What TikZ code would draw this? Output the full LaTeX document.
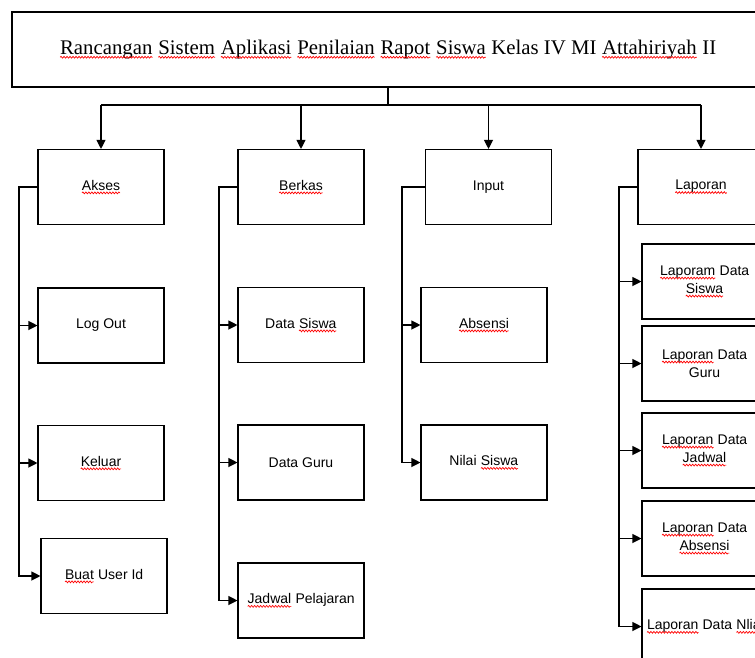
\documentclass[tikz,border=0pt]{standalone}
\usepackage{fontspec}
\setmainfont{Liberation Sans}
\newfontfamily\timesf{Liberation Serif}
\usetikzlibrary{arrows.meta,decorations.pathmorphing}
\newcommand{\sq}[1]{\tikz[baseline=(sqw.base)]{\node[inner sep=0pt,outer sep=0pt,draw=none,minimum width=0pt,minimum height=0pt,anchor=base] (sqw) {#1};\draw[red,line width=0.7pt,decorate,decoration={snake,amplitude=0.9pt,segment length=3pt}] ([yshift=-2.8pt]sqw.base west) -- ([yshift=-2.8pt]sqw.base east);}}
\begin{document}
\begin{tikzpicture}[x=1pt,y=-1pt,
  box/.style={draw,line width=1.1pt,minimum width=126pt,minimum height=75pt,inner sep=0pt,align=center,font=\fontsize{14}{18}\selectfont},
  arr/.style={-{Triangle[length=9pt,width=9pt]},line width=1.1pt},
  ln/.style={line width=1.1pt}]
\useasboundingbox (0,0) rectangle (755,657);
\clip (0,0) rectangle (755,657);
\node[draw,line width=1.1pt,minimum width=752pt,minimum height=75pt,inner sep=0pt,font=\timesf\fontsize{20.8}{24}\selectfont] (title) at (388,49.5)
  {\sq{Rancangan} \sq{Sistem} \sq{Aplikasi} \sq{Penilaian} \sq{Rapot} \sq{Siswa} Kelas IV MI \sq{Attahiriyah} II};
% level 1
\node[box] (akses) at (101,187) {\sq{Akses}};
\node[box] (berkas) at (301,187) {\sq{Berkas}};
\node[box] (input) at (488.5,187) {Input};
\node[box] (laporan) at (701,187) {\sq{Laporan}};
% Akses children
\node[box] (logout) at (101,325.5) {Log Out};
\node[box] (keluar) at (101,463) {\sq{Keluar}};
\node[box] (buat) at (104,576) {\sq{Buat} User Id};
% Berkas children
\node[box] (dsiswa) at (301,325) {Data \sq{Siswa}};
\node[box] (dguru) at (301,462.5) {Data Guru};
\node[box] (jadwal) at (301,600.5) {\sq{Jadwal} Pelajaran};
% Input children
\node[box] (absensi) at (484,325) {\sq{Absensi}};
\node[box] (nilai) at (484,462.5) {Nilai \sq{Siswa}};
% Laporan children
\node[box,minimum width=125pt] (lsiswa) at (704.5,281.5) {\sq{Laporam} Data\\\sq{Siswa}};
\node[box,minimum width=125pt] (lguru) at (704.5,363.5) {\sq{Laporan} Data\\Guru};
\node[box,minimum width=125pt] (ljadwal) at (704.5,450.5) {\sq{Laporan} Data\\\sq{Jadwal}};
\node[box,minimum width=125pt] (labsensi) at (704.5,538.5) {\sq{Laporan} Data\\\sq{Absensi}};
\node[box,minimum width=125pt] (lnilai) at (704.5,626.5) {};
\node[anchor=west,inner sep=0pt,font=\fontsize{14}{18}\selectfont] (lnilaitext) at ([xshift=5pt]lnilai.west) {\sq{Laporan} Data \sq{Nliai}};
% top connectors
\coordinate (bus) at (0,105);
\draw[ln] (title.south) -- (title.south |- bus);
\draw[ln] (akses.north |- bus) -- (laporan.north |- bus);
\foreach \n in {akses,berkas,input,laporan}
  \draw[arr] (\n.north |- bus) -- (\n.north);
% side connectors
\coordinate (ax) at (19,0);
\coordinate (bx) at (219,0);
\coordinate (ix) at (402,0);
\coordinate (lx) at (619,0);
\foreach \c in {logout,keluar,buat}
  \draw[arr] (akses.west) -- (akses.west -| ax) |- (\c.west);
\foreach \c in {dsiswa,dguru,jadwal}
  \draw[arr] (berkas.west) -- (berkas.west -| bx) |- (\c.west);
\foreach \c in {absensi,nilai}
  \draw[arr] (input.west) -- (input.west -| ix) |- (\c.west);
\foreach \c in {lsiswa,lguru,ljadwal,labsensi,lnilai}
  \draw[arr] (laporan.west) -- (laporan.west -| lx) |- (\c.west);
\end{tikzpicture}
\end{document}
